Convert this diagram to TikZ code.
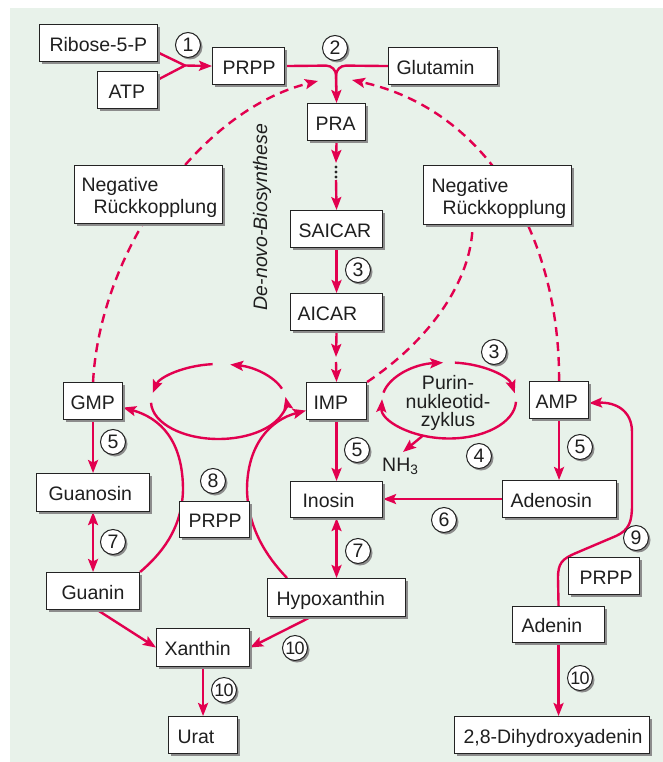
\documentclass[tikz,border=0pt]{standalone}
\usepackage{fontspec}
\setmainfont{Liberation Sans}
\usetikzlibrary{arrows.meta,shadows}
\hyphenpenalty=10000 \exhyphenpenalty=10000
\definecolor{pan}{RGB}{232,242,234}
\definecolor{rd}{RGB}{226,0,79}
\definecolor{bord}{RGB}{35,35,35}
\pgfdeclarelayer{bgpanel}\pgfdeclarelayer{links}
\pgfsetlayers{bgpanel,links,main}
\tikzset{
 box/.style={draw=bord, line width=1.1pt, fill=white, inner ysep=0pt, text=black!88,
   text height=16pt, text depth=0pt, align=left,
   drop shadow={shadow xshift=2.5pt, shadow yshift=-2.5pt, fill=black!45, opacity=1}},
 cnum/.style={circle, draw=bord, line width=1pt, fill=white, minimum size=25pt, inner sep=0pt, text=black!88,
   drop shadow={shadow xshift=2pt, shadow yshift=-2pt, fill=black!45, opacity=1},
   font=\fontsize{19.5}{19.5}\selectfont},
 rl/.style={draw=rd, line width=2.4pt, line join=round},
 conn/.style={rl, -{Stealth[length=13pt,width=10pt,inset=2.5pt]}},
 conn2/.style={rl, {Stealth[length=13pt,width=10pt,inset=2.5pt]}-{Stealth[length=13pt,width=10pt,inset=2.5pt]}},
 fbn/.style={rl, dash pattern=on 9pt off 6pt},
 fb/.style={fbn, -{Stealth[length=13pt,width=10pt,inset=2.5pt]}},
}
\newcommand\pbox[8][]{%
  \pgfmathsetmacro\bw{#5-#3}\pgfmathsetmacro\bh{#6-#4}\pgfmathsetmacro\tw{#5-#3-2*#7}%
  \node[box, anchor=north west, minimum width=\bw pt, minimum height=\bh pt,
        inner xsep=#7pt, text width=\tw pt, #1] (#2) at (#3,#4) {#8};}
\begin{document}
\begin{tikzpicture}[x=1pt, y=-1pt, font=\fontsize{19.5}{22}\selectfont]
\useasboundingbox (0,0) rectangle (663,762);
\begin{pgfonlayer}{bgpanel}
\fill[pan] (10,8) rectangle (663,762);
\end{pgfonlayer}

% boxes
\pbox{rib}{39}{24}{157}{61}{10}{Ribose-5-P}
\pbox{atp}{97}{71}{157}{108}{11}{ATP}
\pbox{prpp1}{212}{47}{284}{84}{10}{PRPP}
\pbox{glu}{388}{47}{497}{84}{8}{Glutamin}
\pbox{pra}{307}{103}{365}{140}{8}{PRA}
\pbox{saicar}{290}{210}{382}{247}{8}{SAICAR}
\pbox{aicar}{290}{293}{382}{330}{7}{AICAR}
\pbox[text height=14pt, text depth=20pt]{neg1}{74}{165}{222}{223}{7}{Negative\\\hspace*{12pt}R\"uckkopplung}
\pbox[text height=14pt, text depth=20pt]{neg2}{423}{165}{571}{224}{8}{Negative\\\hspace*{11pt}R\"uckkopplung}
\pbox{imp}{306}{382}{366}{419}{7}{IMP}
\pbox{gmp}{63}{382}{122}{419}{7}{GMP}
\pbox{amp}{529}{381}{588}{418}{6}{AMP}
\pbox{guanosin}{36}{473}{149}{511}{12}{Guanosin}
\pbox{prpp2}{179}{501}{249}{537}{9}{PRPP}
\pbox{inosin}{290}{481}{382}{517}{12}{Inosin}
\pbox{adenosin}{502}{480}{616}{517}{8}{Adenosin}
\pbox{guanin}{46}{572}{139}{609}{15}{Guanin}
\pbox{hypox}{267}{578}{405}{616}{9}{Hypoxanthin}
\pbox{prpp3}{568}{557}{639}{594}{11}{PRPP}
\pbox{adenin}{512}{606}{604}{642}{9}{Adenin}
\pbox{xanthin}{156}{628}{249}{666}{8}{Xanthin}
\pbox{urat}{168}{716}{237}{753}{9}{Urat}
\pbox{dihydro}{454}{716}{649}{753}{9}{2,8-Dihydroxyadenin}

% circled numbers
\node[cnum] (c1) at (188,45) {1};
\node[cnum] (c2) at (335,48) {2};
\node[cnum] (c3a) at (358,270) {3};
\node[cnum] (c3b) at (494,352) {3};
\node[cnum] (c4) at (479,456) {4};
\node[cnum] (c5a) at (113,442) {5};
\node[cnum] (c5b) at (357,450) {5};
\node[cnum] (c5c) at (580,447) {5};
\node[cnum] (c6) at (444,520) {6};
\node[cnum] (c7a) at (113,542) {7};
\node[cnum] (c7b) at (358,551) {7};
\node[cnum] (c8) at (213,481) {8};
\node[cnum] (c9) at (636,538) {9};
\node[cnum, font=\fontsize{18}{18}\selectfont] (c10a) at (295,648) {1\kern-0.8pt0};
\node[cnum, font=\fontsize{18}{18}\selectfont] (c10b) at (224,690) {1\kern-0.8pt0};
\node[cnum, font=\fontsize{18}{18}\selectfont] (c10c) at (580,678) {1\kern-0.8pt0};

% texts
\node[rotate=90, font=\itshape\fontsize{19.5}{22}\selectfont, text=black!88] (denovo) at (262,217) {De-novo-Biosynthese};
\node[align=center, font=\fontsize{19.5}{18.5}\selectfont, text=black!88] (pz) at (448,403) {Purin-\\nukleotid-\\zyklus};
\node[anchor=base west, inner sep=0pt, text=black!88] (nh3) at (382,471) {NH\textsubscript{3}};

% coordinates
\coordinate (j1) at (185,65.5);
\coordinate (j2) at (336,65.5);
\coordinate (d0) at (336,163);
\coordinate (d1) at (336,180);
\coordinate (a1) at (336,357);
\coordinate (a2) at (336,362);
\coordinate (L) at (218.5,401.5);
\coordinate (R) at (449,400.5);
\coordinate (nh0) at (423,435.5);
\coordinate (nh1) at (403,452);
\coordinate (fbL) at (318,81);
\coordinate (fbR) at (352,80);

\begin{pgfonlayer}{links}
% top
\draw[rl] ([yshift=-9.5pt]rib.east) -- (j1) -- ([yshift=10.5pt]atp.east);
\draw[conn] (j1) -- (prpp1.west);
\draw[conn, rounded corners=10pt] (prpp1.east) -- (j2) -- (pra.north);
\draw[rl, rounded corners=10pt] (glu.west) -- (j2) -- ([yshift=-22pt]j2);
% column
\draw[conn] (pra.south) -- (d0);
\fill[black!85] (336,167) circle (1.7pt) (336,172) circle (1.7pt) (336,177) circle (1.7pt);
\draw[conn] (d1) -- (saicar.north);
\draw[conn] (saicar.south) -- (aicar.north);
\draw[conn] (aicar.south) -- (a1);
\draw[conn] (a2) -- (imp.north);
\draw[conn] (imp.south) -- (inosin.north);
\draw[conn2] (inosin.south) -- (hypox.north);
\draw[conn] (gmp.south) -- (guanosin.north);
\draw[conn2] (guanosin.south) -- (guanin.north);
\draw[conn] (amp.south) -- (amp.south |- adenosin.north);
\draw[conn] (adenosin.west) -- (adenosin.west -| inosin.east);
\draw[conn] ([xshift=4.5pt]guanin.south) -- (xanthin.west);
\draw[conn] ([xshift=-26pt]hypox.south) -- (xanthin.east);
\draw[conn] (xanthin.south) -- (urat.north);
\draw[conn] (adenin.south) -- (adenin.south |- dihydro.north);
% adenin -> AMP
\draw[conn] (adenin.north) -- (558,578) .. controls (558,563) and (562,559) .. (576,553)
  -- (616,536) .. controls (629,530) and (632,522) .. (632,505) -- (632,432)
  .. controls (632,410) and (615,402) .. ([yshift=-3pt]amp.east);
% PRPP (8) curves
\draw[conn] (guanin.north east) .. controls (160,555) and (182,530) .. (183,490)
  .. controls (183,440) and (160,418) .. ([yshift=-6.5pt]gmp.east);
\draw[conn] ([xshift=20pt]hypox.north west) .. controls (266,556) and (248,528) .. (247,490)
  .. controls (247,445) and (270,420) .. ([yshift=-9.5pt]imp.west);
% left cycle
\draw[conn] ([shift={(340:67.5 and 37.5)}]L) arc[start angle=340, end angle=280, x radius=67.5, y radius=37.5];
\draw[conn] ([shift={(265:67.5 and 37.5)}]L) arc[start angle=265, end angle=193, x radius=67.5, y radius=37.5];
\draw[conn] ([shift={(178:67.5 and 37.5)}]L) arc[start angle=178, end angle=-7, x radius=67.5, y radius=37.5];
% purine nucleotide cycle
\draw[conn] ([shift={(192:67 and 38)}]R) arc[start angle=192, end angle=265, x radius=67, y radius=38];
\draw[conn] ([shift={(275:67 and 38)}]R) arc[start angle=275, end angle=349, x radius=67, y radius=38];
\draw[conn] ([shift={(2:67 and 38)}]R) arc[start angle=2, end angle=182, x radius=67, y radius=38];
\draw[conn] (nh0) -- (nh1);
% feedback
\draw[fb] (gmp.north) .. controls (100,250) and (200,110) .. (fbL);
\draw[fb] (amp.north) .. controls (560,240) and (490,110) .. (fbR);
\draw[fbn] (imp.north east) .. controls (430,340) and (472,280) .. ([xshift=-25pt]neg2.south);
\end{pgfonlayer}
\end{tikzpicture}
\end{document}
